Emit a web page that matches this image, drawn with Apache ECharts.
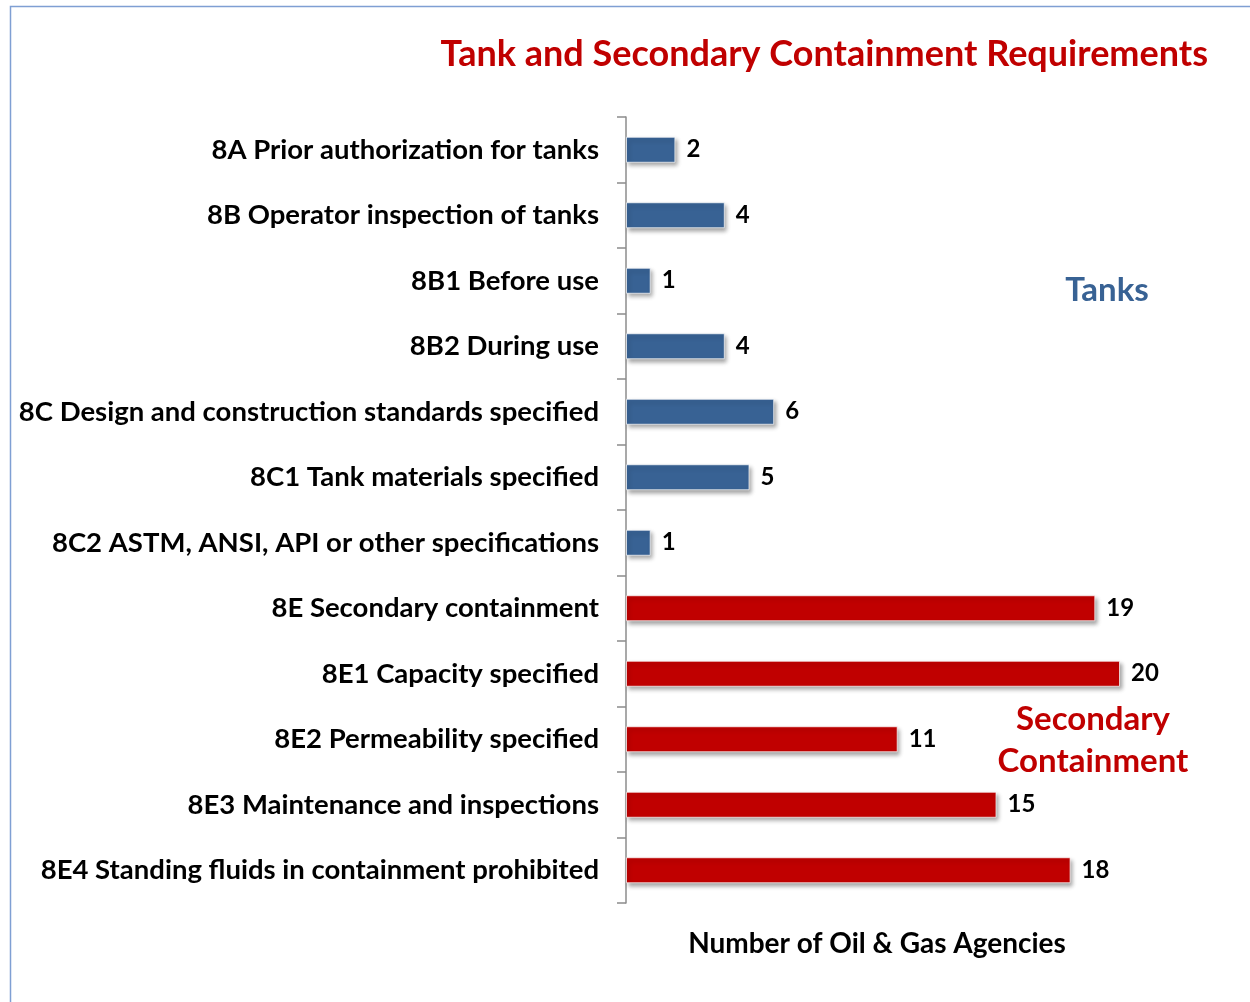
<!DOCTYPE html>
<html>
<head>
<meta charset="utf-8">
<script src="https://cdn.jsdelivr.net/npm/echarts@6/dist/echarts.min.js"></script>
<style>
html,body{margin:0;padding:0;background:#fff;}
#chart{width:1250px;height:1002px;}
</style>
</head>
<body>
<div id="chart"></div>
<script>
var categories = [
  '8A Prior authorization for tanks',
  '8B Operator inspection of tanks',
  '8B1 Before use',
  '8B2 During use',
  '8C Design and construction standards specified',
  '8C1 Tank materials specified',
  '8C2 ASTM, ANSI, API or other specifications',
  '8E Secondary containment',
  '8E1 Capacity specified',
  '8E2 Permeability specified',
  '8E3 Maintenance and inspections',
  '8E4 Standing fluids in containment prohibited'
];
var values = [2, 4, 1, 4, 6, 5, 1, 19, 20, 11, 15, 18];
var groups = ['Tanks','Tanks','Tanks','Tanks','Tanks','Tanks','Tanks',
  'Secondary Containment','Secondary Containment','Secondary Containment','Secondary Containment','Secondary Containment'];
var groupColors = { 'Tanks': '#386294', 'Secondary Containment': '#c00000' };

var FONT = 'Lato';
var chart = echarts.init(document.getElementById('chart'), null, { renderer: 'canvas' });
chart.setOption({
  animation: false,
  backgroundColor: '#fff',
  title: {
    text: 'Tank and Secondary Containment Requirements',
    right: 37,
    top: 31,
    textStyle: { color: '#c00000', fontFamily: FONT, fontWeight: 'bold', fontSize: 36 }
  },
  grid: { left: 626, top: 117, width: 494, height: 786 },
  xAxis: {
    type: 'value', min: 0, max: 20,
    axisLine: { show: false }, axisTick: { show: false },
    axisLabel: { show: false }, splitLine: { show: false },
    name: 'Number of Oil & Gas Agencies',
    nameLocation: 'middle',
    nameGap: 27,
    nameTextStyle: { color: '#000', fontFamily: FONT, fontWeight: 'bold', fontSize: 28, padding: [0, 0, 0, 8] }
  },
  yAxis: {
    type: 'category', inverse: true, data: categories,
    axisLine: { show: true, lineStyle: { color: '#8c8c8c', width: 1.5 } },
    axisTick: { show: true, length: 9, lineStyle: { color: '#8c8c8c', width: 1.5 } },
    axisLabel: { color: '#000', fontFamily: FONT, fontWeight: 'bold', fontSize: 27.5, margin: 27 }
  },
  series: [{
    type: 'bar',
    barWidth: 26,
    data: values.map(function (v, i) {
      return { value: v, itemStyle: { color: groupColors[groups[i]] } };
    }),
    itemStyle: {
      borderColor: 'rgba(255,255,255,0.7)', borderWidth: 1,
      shadowColor: 'rgba(0,0,0,0.35)', shadowBlur: 4, shadowOffsetX: 2, shadowOffsetY: 3
    },
    label: {
      show: true, position: 'right', distance: 11,
      color: '#000', fontFamily: FONT, fontWeight: 'bold', fontSize: 24
    }
  }],
  graphic: [
    { type: 'polyline', shape: { points: [[10.5, 1002], [10.5, 6.5], [1250, 6.5]] },
      style: { stroke: '#7f9fd3', lineWidth: 1.5, fill: null } },
    { type: 'text', x: 1107, y: 290,
      style: { text: 'Tanks', fill: '#386294', font: 'bold 33px ' + FONT, textAlign: 'center', textVerticalAlign: 'middle' } },
    { type: 'text', x: 1093, y: 740,
      style: { text: 'Secondary\nContainment', fill: '#c00000', font: 'bold 33px ' + FONT, lineHeight: 42, textAlign: 'center', textVerticalAlign: 'middle' } }
  ]
});
</script>
</body>
</html>
